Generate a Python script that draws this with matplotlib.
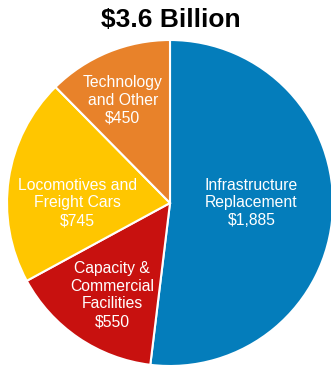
import matplotlib
matplotlib.use("Agg")
import matplotlib.pyplot as plt

# Data (millions of dollars)
categories = ["Infrastructure\nReplacement", "Capacity &\nCommercial\nFacilities",
              "Locomotives and\nFreight Cars", "Technology\nand Other"]
values = [1885, 550, 745, 450]
colors = ["#047DBB", "#C8110F", "#FFC600", "#E8822A"]

plt.rcParams["font.family"] = ["Liberation Sans", "DejaVu Sans"]

W, H = 331, 369
fig = plt.figure(figsize=(W / 100, H / 100), dpi=100)

# pie centre / radius in pixels
cx, cy, r = 170, 203, 163
ax = fig.add_axes([(cx - r) / W, (H - cy - r) / H, 2 * r / W, 2 * r / H])
ax.pie(values, colors=colors, startangle=90, counterclock=False,
       wedgeprops=dict(edgecolor="white", linewidth=1.5), radius=1)
ax.set_xlim(-1, 1)
ax.set_ylim(-1, 1)
ax.set_aspect("equal")
ax.axis("off")

# label positions (pie data coords)
label_pos = [(0.50, 0.0), (-0.355, -0.565), (-0.57, 0.0), (-0.29, 0.63)]
for name, v, (x, y) in zip(categories, values, label_pos):
    ax.text(x, y, f"{name}\n${v:,}", ha="center", va="center",
            color="white", fontsize=11.3, linespacing=1.22)

fig.text(171 / W, 1 - 20 / H, "$3.6 Billion", ha="center", va="center",
         fontsize=19, fontweight="bold")

fig.savefig("out.png", dpi=100)
